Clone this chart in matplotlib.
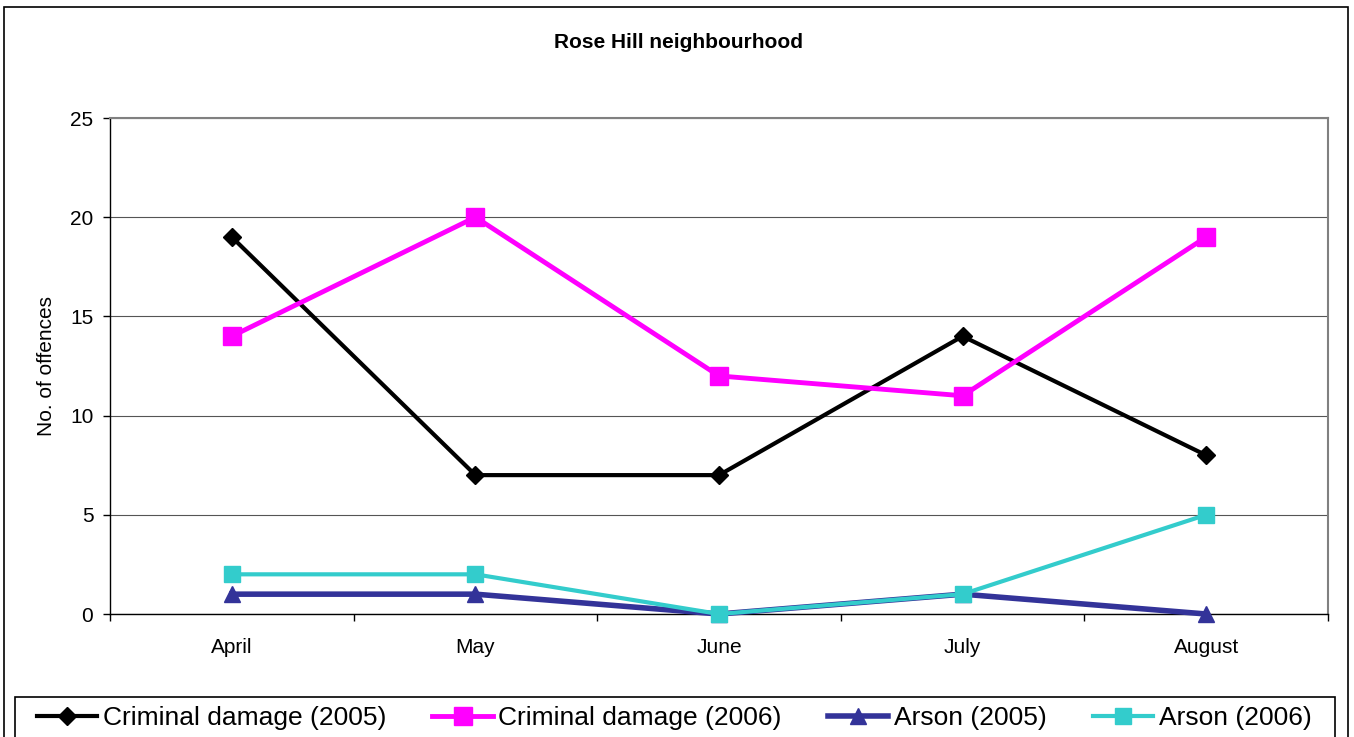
import numpy as np
import matplotlib
matplotlib.use("Agg")
import matplotlib.pyplot as plt
from matplotlib.patches import Rectangle

plt.rcParams['font.family'] = ['Liberation Sans', 'DejaVu Sans']

months = ['April', 'May', 'June', 'July', 'August']
damage_2005 = [19, 7, 7, 14, 8]
damage_2006 = [14, 20, 12, 11, 19]
arson_2005 = [1, 1, 0, 1, 0]
arson_2006 = [2, 2, 0, 1, 5]
y_ticks = [0, 5, 10, 15, 20, 25]

W, H = 1354, 737
fig = plt.figure(figsize=(W / 100, H / 100), dpi=100)
ax = fig.add_axes([110 / W, 1 - 614 / H, (1328 - 110) / W, (614 - 118) / H])

x = np.arange(len(months))
ax.plot(x, damage_2005, color='black', lw=3, marker='D', ms=9.5,
        mec='black', mfc='black', clip_on=False, zorder=3, label='Criminal damage (2005)')
ax.plot(x, damage_2006, color='#FF00FF', lw=3.5, marker='s', ms=13,
        mec='#FF00FF', mfc='#FF00FF', clip_on=False, zorder=4, label='Criminal damage (2006)')
ax.plot(x, arson_2005, color='#333399', lw=4, marker='^', ms=11,
        mec='#333399', mfc='#333399', clip_on=False, zorder=5, label='Arson (2005)')
ax.plot(x, arson_2006, color='#33CCCC', lw=3, marker='s', ms=12,
        mec='#33CCCC', mfc='#33CCCC', clip_on=False, zorder=6, label='Arson (2006)')

ax.set_xlim(-0.5, len(months) - 0.5)
ax.set_ylim(0, 25)
ax.set_yticks(y_ticks)
ax.set_xticks(x)
ax.set_xticklabels(months)
ax.set_xticks(np.arange(len(months) + 1) - 0.5, minor=True)
ax.tick_params(axis='x', which='major', length=0, pad=17, labelsize=15)
ax.tick_params(axis='x', which='minor', length=5, width=1, color='black')
ax.tick_params(axis='y', length=5, width=1, pad=7, labelsize=15)
ax.yaxis.grid(True, color='#555555', lw=0.8)
ax.set_axisbelow(True)

for s in ['top', 'right']:
    ax.spines[s].set_color('#808080')
    ax.spines[s].set_linewidth(1.5)
for s in ['left', 'bottom']:
    ax.spines[s].set_color('black')
    ax.spines[s].set_linewidth(1)

fig.text(678 / W, 1 - 42 / H, 'Rose Hill neighbourhood', ha='center', va='center',
         fontsize=15, fontweight='bold')
fig.text(47 / W, 1 - 366 / H, 'No. of offences', ha='center', va='center',
         rotation=90, fontsize=15)

# outer chart border and legend box
fig.patches.append(Rectangle((4 / W, -0.05), (1348 - 4) / W, 1.05 - 7 / H,
                             transform=fig.transFigure, fill=False, ec='black', lw=1.2))
fig.patches.append(Rectangle((15 / W, -0.05), (1335 - 15) / W, 0.05 + 40 / H,
                             transform=fig.transFigure, fill=False, ec='black', lw=1.2))

handles, labels = ax.get_legend_handles_labels()
fig.legend(handles, labels, loc='center', bbox_to_anchor=(674 / W, 1 - 718 / H),
           ncol=4, frameon=False, fontsize=19, handlelength=2.3,
           handletextpad=0.2, columnspacing=1.75)

fig.savefig('out.png', dpi=100)
